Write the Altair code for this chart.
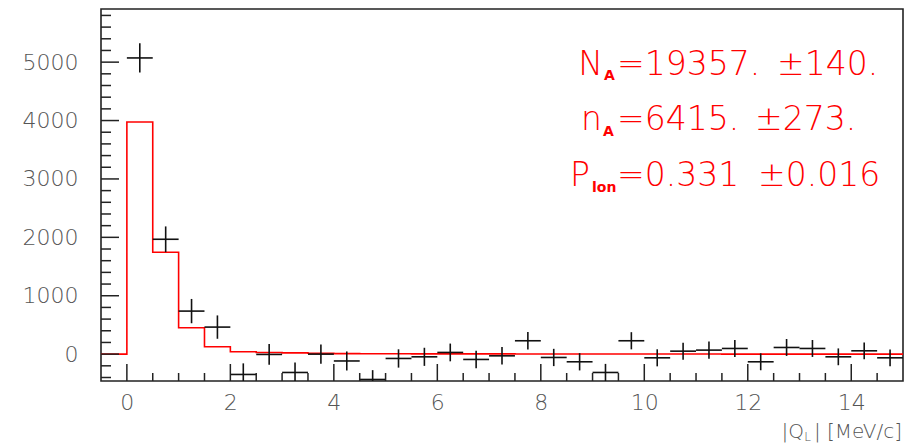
import altair as alt
import pandas as pd

# Measured |Q_L| spectrum: bin centres (MeV/c), counts and errors
bin_centers = [0.25, 0.75, 1.25, 1.75, 2.25, 2.75, 3.25, 3.75, 4.25, 4.75,
               5.25, 5.75, 6.25, 6.75, 7.25, 7.75, 8.25, 8.75, 9.25, 9.75,
               10.25, 10.75, 11.25, 11.75, 12.25, 12.75, 13.25, 13.75, 14.25, 14.75]
counts = [5072, 1967, 737, 463, -348, -5, -314, 0, -117, -434,
          -74, -46, 29, -91, -29, 229, -57, -131, -314, 229,
          -63, 51, 69, 97, -131, 114, 97, -46, 57, -63]
errors = [251, 220, 208, 200, 190, 177, 172, 165, 163, 160,
          157, 155, 152, 151, 150, 149, 148, 148, 147, 147,
          146, 146, 146, 145, 145, 145, 145, 144, 144, 144]
half_width = 0.25

# Fitted model histogram (left bin edges, step values)
model_edges = [-0.5, 0.0, 0.5, 1.0, 1.5, 2.0, 2.5, 3.0, 3.5, 4.0, 4.5, 5.0,
               5.5, 6.0, 6.5, 7.0, 7.5, 8.0, 8.5, 9.0, 9.5, 10.0, 10.5,
               11.0, 11.5, 12.0, 12.5, 13.0, 13.5, 14.0, 14.5, 15.0]
model_values = [0, 3975, 1744, 451, 126, 40, 29, 22, 14, 9, 7, 6,
                5, 5, 4, 4, 3, 3, 3, 2, 2, 2, 2,
                2, 1, 1, 1, 1, 1, 1, 1, 1]

# Axis tick values
x_major = [0, 2, 4, 6, 8, 10, 12, 14]
x_minor = [0.5, 1, 1.5, 2.5, 3, 3.5, 4.5, 5, 5.5, 6.5, 7, 7.5, 8.5, 9, 9.5,
           10.5, 11, 11.5, 12.5, 13, 13.5, 14.5]
y_major = [0, 1000, 2000, 3000, 4000, 5000]
y_minor = [-400, -200, 200, 400, 600, 800, 1200, 1400, 1600, 1800, 2200, 2400,
           2600, 2800, 3200, 3400, 3600, 3800, 4200, 4400, 4600, 4800, 5200,
           5400, 5600, 5800]

W, H = 802, 372
FONT = "DejaVu Sans"
RED = "#ff0000"
INK = "#111111"
GREY = "#555555"

xs = alt.Scale(domain=[-0.5, 15], nice=False, zero=False)
ys = alt.Scale(domain=[-460, 5910], nice=False, zero=False)

pts = pd.DataFrame({"c": bin_centers, "n": counts, "e": errors})
pts["lo"] = pts["c"] - half_width
pts["hi"] = pts["c"] + half_width
pts["ylo"] = pts["n"] - pts["e"]
pts["yhi"] = pts["n"] + pts["e"]

model = pd.DataFrame({"x": model_edges, "y": model_values})

model_line = alt.Chart(model).mark_line(
    interpolate="step-after", color=RED, strokeWidth=1.6, clip=True
).encode(
    x=alt.X("x:Q", scale=xs, title=None,
            axis=alt.Axis(values=x_major, ticks=False, domain=False, grid=False,
                          labelFont=FONT, labelFontSize=22, labelColor=GREY,
                          labelFontWeight=300, labelPadding=11, format="d")),
    y=alt.Y("y:Q", scale=ys, title=None,
            axis=alt.Axis(values=y_major, ticks=False, domain=False, grid=False,
                          labelFont=FONT, labelFontSize=22, labelColor=GREY,
                          labelFontWeight=300, labelPadding=23, format="d")),
)

hbars = alt.Chart(pts).mark_rule(color=INK, strokeWidth=1.6, clip=True).encode(
    x=alt.X("lo:Q", scale=xs, title=None), x2="hi:Q",
    y=alt.Y("n:Q", scale=ys, title=None),
)
vbars = alt.Chart(pts).mark_rule(color=INK, strokeWidth=1.6, clip=True).encode(
    x=alt.X("c:Q", scale=xs, title=None),
    y=alt.Y("ylo:Q", scale=ys, title=None), y2="yhi:Q",
)


def xticks(vals, length):
    return alt.Chart(pd.DataFrame({"v": vals})).mark_rule(
        color="#222222", strokeWidth=1.5
    ).encode(x=alt.X("v:Q", scale=xs, title=None),
             y=alt.value(H), y2=alt.value(H - length))


def yticks(vals, length):
    return alt.Chart(pd.DataFrame({"v": vals})).mark_rule(
        color="#222222", strokeWidth=1.5
    ).encode(y=alt.Y("v:Q", scale=ys, title=None),
             x=alt.value(0), x2=alt.value(length))


def label(text, px, py, size, align="left", weight=300, color=RED):
    return alt.Chart(pd.DataFrame({"t": [text]})).mark_text(
        font=FONT, fontSize=size, fontWeight=weight, align=align,
        baseline="alphabetic", color=color
    ).encode(x=alt.value(px), y=alt.value(py), text="t:N")


fit_text = [
    label("N", 502, 66, 33, align="right"),
    label("A", 503, 71, 14, weight="bold"),
    label("=19357.", 516, 66, 33),
    label("±140.", 676, 66, 33),
    label("n", 501, 121, 33, align="right"),
    label("A", 502, 127, 14, weight="bold"),
    label("=6415.", 516, 121, 33),
    label("±273.", 654, 121, 33),
    label("P", 489, 177, 33, align="right"),
    label("lon", 491, 183, 14, weight="bold"),
    label("=0.331", 516, 177, 33),
    label("±0.016", 657, 177, 33),
]

axis_title = [
    label("| [MeV/c]", 801, 429, 20, align="right", color=GREY),
    label("L", 710, 432, 12, align="right", color=GREY),
    label("|Q", 703, 429, 20, align="right", color=GREY),
]

chart = alt.layer(
    model_line, hbars, vbars,
    xticks(x_major, 17), xticks(x_minor, 8),
    yticks(y_major, 18), yticks(y_minor, 10),
    *fit_text, *axis_title,
).properties(
    width=W, height=H,
    padding={"left": 101, "top": 9, "right": 11, "bottom": 66},
    autosize=alt.AutoSizeParams(type="none"),
    background="white",
).configure_view(stroke="#222222", strokeWidth=1.6)

chart.save("out.html", embed_options={"renderer": "svg", "actions": False})
